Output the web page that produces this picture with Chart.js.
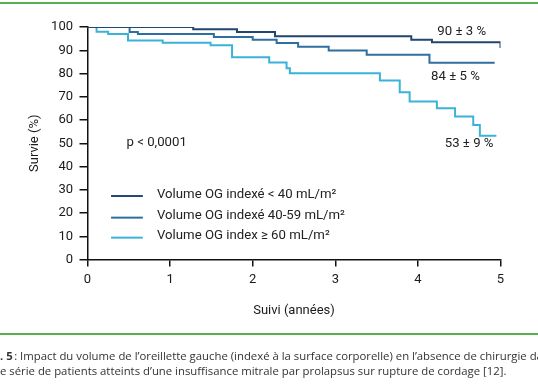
<!DOCTYPE html>
<html>
<head>
<meta charset="utf-8">
<title>Survie - volume OG</title>
<script src="https://cdn.jsdelivr.net/npm/chart.js@4.4.0/dist/chart.umd.min.js"></script>
<style>
  body { margin: 0; width: 538px; height: 384px; overflow: hidden; background: #fff; position: relative; font-family: Roboto, sans-serif; }
  #wrap { position: absolute; left: 0; top: 0; width: 538px; height: 384px; }
  .green { position: absolute; left: 0; width: 538px; height: 2px; background: #5aae52; }
  .caption { position: absolute; white-space: nowrap; font-family: "Open Sans", sans-serif; font-size: 11.35px; line-height: 14px; color: #333; }
</style>
</head>
<body>
<div id="wrap"><canvas id="chartSurvie" width="538" height="384"></canvas></div>
<div class="green" style="top:2px"></div>
<div class="green" style="top:333px"></div>
<div class="caption" id="cap1" style="top:349px"><b><span class="cut">Fig</span>. 5</b>&#8239;: Impact du volume de l’oreillette gauche (indexé à la surface corporelle) en l’absence de chirurgie dans</div>
<div class="caption" id="cap2" style="top:364px"><span class="cut">un</span>e série de patients atteints d’une insuffisance mitrale par prolapsus sur rupture de cordage [12].</div>

<script>
// data -------------------------------------------------------------
// survie (Kaplan-Meier), temps en années
const yearsLow = [0, 1.28, 1.81, 2.27, 3.92, 4.17, 4.91, 5.0];
const survieLow = [100, 99.0, 97.8, 96.0, 94.5, 93.4, 93.4, 91.0];

const yearsMid = [0, 0.51, 0.61, 1.53, 2.0, 2.29, 2.55, 2.92, 3.38, 4.14, 4.93];
const survieMid = [100, 97.9, 97.0, 95.7, 94.5, 93.1, 91.5, 89.9, 88.1, 84.6, 84.6];

const yearsHigh = [0, 0.11, 0.25, 0.49, 0.91, 1.49, 1.75, 2.20, 2.41, 2.45, 3.54, 3.78, 3.90, 4.23, 4.45, 4.67, 4.75, 4.95];
const survieHigh = [100, 98.0, 97.0, 94.2, 93.2, 92.2, 87.0, 84.7, 82.3, 80.1, 77.0, 71.9, 68.0, 65.1, 61.5, 57.8, 53.2, 53.2];

const seriesLabels = [
  'Volume OG indexé < 40 mL/m²',
  'Volume OG indexé 40-59 mL/m²',
  'Volume OG index ≥ 60 mL/m²'
];
const endLabels = ['90 ± 3 %', '84 ± 5 %', '53 ± 9 %'];
const pText = 'p < 0,0001';

const xTicks = [0, 1, 2, 3, 4, 5];
const yTicks = [0, 10, 20, 30, 40, 50, 60, 70, 80, 90, 100];

const colors = ['#22466f', '#2f6f9f', '#3bb2d8'];

function toPoints(xs, ys) {
  return xs.map((t, i) => ({ x: t, y: ys[i] }));
}

// texts inside the plot (legend, end values, p) ---------------------
const plotTexts = {
  id: 'plotTexts',
  afterDatasetsDraw(chart) {
    const ctx = chart.ctx;
    const sx = chart.scales.x;
    const sy = chart.scales.y;
    ctx.save();
    ctx.font = '13.2px Roboto';
    ctx.fillStyle = '#222';
    ctx.textBaseline = 'middle';

    ctx.textAlign = 'center';
    ctx.fillText(endLabels[0], sx.getPixelForValue(4.53), sy.getPixelForValue(98));
    ctx.fillText(endLabels[1], sx.getPixelForValue(4.455), sy.getPixelForValue(78.6));
    ctx.fillText(endLabels[2], sx.getPixelForValue(4.62), sy.getPixelForValue(49.7));
    ctx.fillText(pText, sx.getPixelForValue(0.837), sy.getPixelForValue(50.2));

    // legend
    const rows = [27.3, 18.0, 9.4];
    ctx.textAlign = 'left';
    for (let i = 0; i < seriesLabels.length; i++) {
      const py = sy.getPixelForValue(rows[i]);
      ctx.strokeStyle = colors[i];
      ctx.lineWidth = 2;
      ctx.beginPath();
      ctx.moveTo(sx.getPixelForValue(0.285), py);
      ctx.lineTo(sx.getPixelForValue(0.67), py);
      ctx.stroke();
      ctx.fillText(seriesLabels[i], sx.getPixelForValue(0.841), py - 1.5);
    }
    ctx.restore();
  }
};

function chartSurvie() {
  Chart.defaults.font.family = 'Roboto';

  const dataSurvie = {
    datasets: [
      { label: seriesLabels[0], data: toPoints(yearsLow, survieLow), borderColor: colors[0] },
      { label: seriesLabels[1], data: toPoints(yearsMid, survieMid), borderColor: colors[1] },
      { label: seriesLabels[2], data: toPoints(yearsHigh, survieHigh), borderColor: colors[2] }
    ].map(d => Object.assign(d, { stepped: true, borderWidth: 2, pointRadius: 0, fill: false }))
  };

  const configSurvie = {
    type: 'line',
    data: dataSurvie,
    plugins: [plotTexts],
    options: {
      responsive: false,
      animation: false,
      devicePixelRatio: 1,
      layout: { padding: { top: 27, right: 37.5, bottom: 64, left: 0 } },
      plugins: { legend: { display: false }, tooltip: { enabled: false } },
      scales: {
        x: {
          type: 'linear',
          min: 0,
          max: 5,
          afterBuildTicks: s => { s.ticks = xTicks.map(v => ({ value: v })); },
          afterFit: s => { s.height = 60.5; },
          border: { color: '#111', width: 1.5 },
          grid: { drawOnChartArea: false, drawTicks: true, tickLength: 7, color: '#111', lineWidth: 1.5 },
          ticks: { color: '#1a1a1a', font: { size: 13 }, padding: 5, maxRotation: 0 },
          title: { display: true, text: 'Suivi (années)', color: '#1a1a1a', font: { size: 13 }, padding: { bottom: 1.5 } }
        },
        y: {
          min: 0,
          max: 100,
          afterBuildTicks: s => { s.ticks = yTicks.map(v => ({ value: v })); },
          afterFit: s => { s.width = 87.5; },
          border: { color: '#111', width: 1.5 },
          grid: { drawOnChartArea: false, drawTicks: true, tickLength: 8, color: '#111', lineWidth: 1.5 },
          ticks: { color: '#1a1a1a', font: { size: 13 }, padding: 6.5 },
          title: { display: true, text: 'Survie (%)', color: '#1a1a1a', font: { size: 13 }, padding: { top: 27 } }
        }
      }
    }
  };

  const myChartSurvie = new Chart(document.getElementById('chartSurvie'), configSurvie);
}

chartSurvie();

// caption is cut on the left like the scan
['cap1', 'cap2'].forEach(id => {
  const el = document.getElementById(id);
  const cut = el.querySelector('.cut');
  el.style.left = (-cut.getBoundingClientRect().width) + 'px';
});
</script>
</body>
</html>
